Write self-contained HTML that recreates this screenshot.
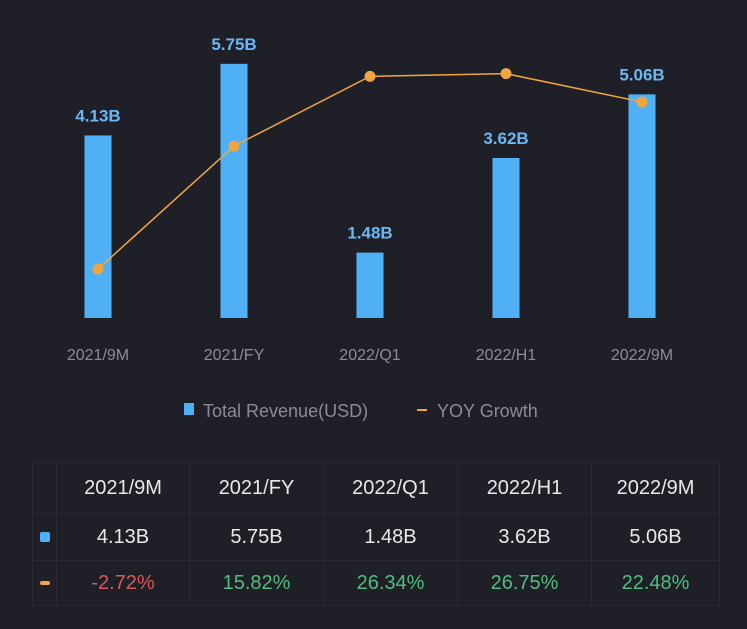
<!DOCTYPE html>
<html><head><meta charset="utf-8"><style>
body{margin:0;width:747px;height:629px;background:#1f2027;overflow:hidden;font-family:"Liberation Sans",sans-serif}
svg{position:absolute;left:0;top:0}
table{position:absolute;left:32px;top:462px;border-collapse:collapse;color:#e8e8ea;font-size:20px}
td{border:1px solid #292b32;text-align:center;padding:0}
</style></head><body>
<svg width="747" height="440" id="chart"></svg>
<table>
<tr style="height:51px"><td style="width:23px"></td><td style="width:132px">2021/9M</td><td style="width:133px">2021/FY</td><td style="width:133px">2022/Q1</td><td style="width:133px">2022/H1</td><td style="width:127px">2022/9M</td></tr>
<tr style="height:47px"><td><div style="width:10px;height:10px;background:#4fb0f6;border-radius:2px;margin:auto"></div></td><td>4.13B</td><td>5.75B</td><td>1.48B</td><td>3.62B</td><td>5.06B</td></tr>
<tr style="height:45px"><td><div style="width:10px;height:4px;background:#f0a640;border-radius:2px;margin:auto"></div></td><td style="color:#d9595a">-2.72%</td><td style="color:#4ebd7e">15.82%</td><td style="color:#4ebd7e">26.34%</td><td style="color:#4ebd7e">26.75%</td><td style="color:#4ebd7e">22.48%</td></tr>
</table>
<script>
const categories=["2021/9M","2021/FY","2022/Q1","2022/H1","2022/9M"];
const revenue=[4.13,5.75,1.48,3.62,5.06];
const growth=[-2.72,15.82,26.34,26.75,22.48];
const svg=document.getElementById('chart');
const NS="http://www.w3.org/2000/svg";
const x=i=>98+i*136;
const yB=v=>318-v*44.2;
const yG=v=>251-v*6.63;
function mk(t,a,txt){const e=document.createElementNS(NS,t);for(const k in a)e.setAttribute(k,a[k]);if(txt!=null)e.textContent=txt;svg.appendChild(e);return e;}
categories.forEach((c,i)=>{
 const r=mk('rect',{x:x(i)-13.5,y:yB(revenue[i]),width:27,height:318-yB(revenue[i]),fill:'#4fb0f6'});
 
 
 const l=mk('text',{x:x(i),y:yB(revenue[i])-14,'text-anchor':'middle',fill:'#69b8f3','font-size':'17','font-weight':'bold'},revenue[i].toFixed(2)+'B');
 
 
 const t=mk('text',{x:x(i),y:360,'text-anchor':'middle',fill:'#8a8c94','font-size':'16'},c);
 
 
});
const pl=mk('polyline',{points:growth.map((g,i)=>x(i)+','+yG(g)).join(' '),fill:'none',stroke:'#f0a640','stroke-width':'1.5'});


growth.forEach((g,i)=>{const c=mk('circle',{cx:x(i),cy:yG(g),r:5.5,fill:'#f0a640'});
 
 });
const lr=mk('rect',{x:184,y:403,width:10,height:12,fill:'#4fb0f6'});


const lt=mk('text',{x:203,y:417,fill:'#8a8c94','font-size':'18'},'Total Revenue(USD)');


const gl=mk('line',{x1:417,y1:410,x2:427,y2:410,stroke:'#f0a640','stroke-width':'2'});


const gt=mk('text',{x:437,y:417,fill:'#8a8c94','font-size':'18'},'YOY Growth');


</script>
</body></html>
